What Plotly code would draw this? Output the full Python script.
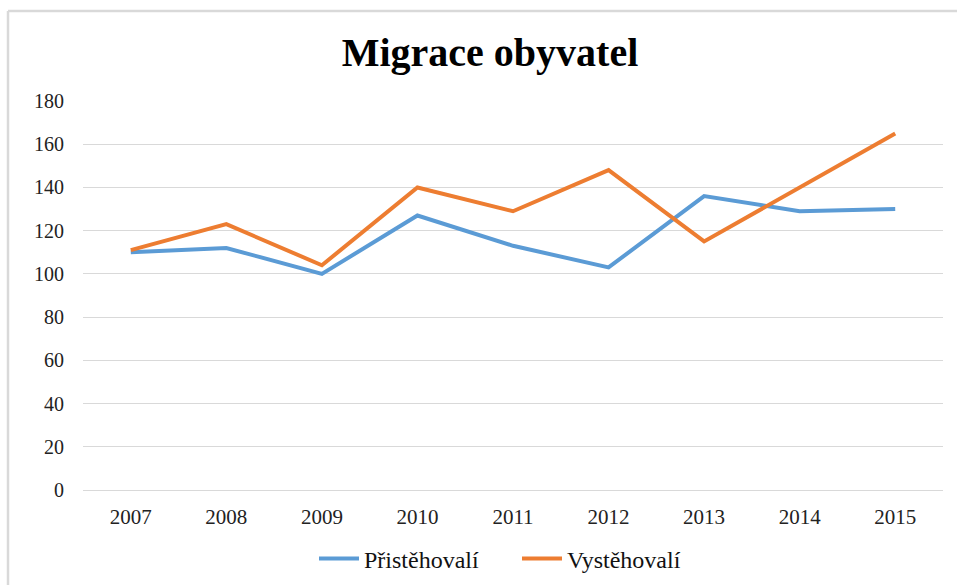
import plotly.graph_objects as go

years = ["2007", "2008", "2009", "2010", "2011", "2012", "2013", "2014", "2015"]
pristehovali = [110, 112, 100, 127, 113, 103, 136, 129, 130]
vystehovali = [111, 123, 104, 140, 129, 148, 115, 140, 165]
y_ticks = [0, 20, 40, 60, 80, 100, 120, 140, 160, 180]

W, H = 957, 585
L, R, T, B = 83, 14, 101, 95
pw, ph = W - L - R, H - T - B

def px_x(p):
    return (p - L) / pw

def px_y(p):
    return (H - B - p) / ph

fig = go.Figure()
fig.add_trace(go.Scatter(x=years, y=pristehovali, name="Přistěhovalí", mode="lines",
                         line=dict(color="#5B9BD5", width=4)))
fig.add_trace(go.Scatter(x=years, y=vystehovali, name="Vystěhovalí", mode="lines",
                         line=dict(color="#ED7D31", width=4)))

serif = "Liberation Serif, Times New Roman, serif"
fig.update_layout(
    width=W, height=H,
    margin=dict(l=L, r=R, t=T, b=B, autoexpand=False),
    paper_bgcolor="white", plot_bgcolor="white",
    title=dict(text="<b>Migrace obyvatel</b>", x=px_x(490), xref="paper", xanchor="center",
               y=1 - 52 / H, yref="container", yanchor="middle",
               font=dict(family=serif, size=40, color="black")),
    font=dict(family=serif, size=20, color="#222"),
    showlegend=True,
    legend=dict(orientation="h", x=px_x(517), xanchor="center", y=px_y(559), yanchor="middle",
                font=dict(family=serif, size=24, color="#111"), itemwidth=40,
                entrywidth=148, entrywidthmode="pixels"),
    xaxis=dict(range=[-0.5, len(years) - 0.5], showgrid=False, showline=False, ticks="",
               automargin=False, ticklabelstandoff=12,
               tickfont=dict(family=serif, size=21, color="#222")),
    yaxis=dict(range=[0, 180], tickvals=y_ticks, showgrid=True, gridcolor="#d9d9d9", gridwidth=1,
               zeroline=True, zerolinecolor="#d9d9d9", zerolinewidth=1, showline=False, ticks="",
               automargin=False, ticklabelstandoff=18,
               tickfont=dict(family=serif, size=20, color="#222")),
)

border = "#d9d9d9"
fig.add_shape(type="line", xref="paper", yref="paper", x0=px_x(8), x1=px_x(8), y0=px_y(600), y1=px_y(11),
              line=dict(color=border, width=2.5))
fig.add_shape(type="line", xref="paper", yref="paper", x0=px_x(8), x1=px_x(970), y0=px_y(11), y1=px_y(11),
              line=dict(color=border, width=2.5))

fig.write_html("out.html", config={"displayModeBar": False},
               post_script="document.body.style.margin='0';")
